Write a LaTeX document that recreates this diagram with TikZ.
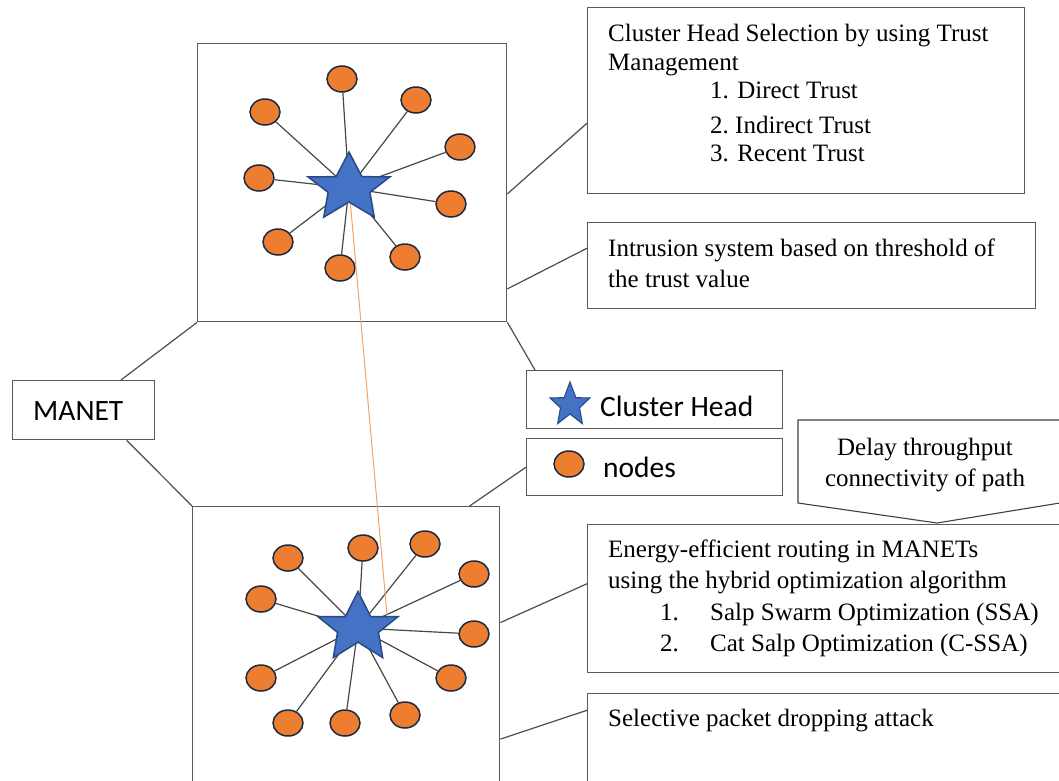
\documentclass[tikz,border=0pt]{standalone}
\usepackage{fontspec}
\setmainfont{Liberation Serif}
\newfontfamily\calib{Carlito}
\usetikzlibrary{shapes.geometric,calc}
\definecolor{nodeorange}{HTML}{ED7D31}
\definecolor{nodeedge}{HTML}{1F2A3C}
\definecolor{starblue}{HTML}{4472C4}
\definecolor{staredge}{HTML}{2A4A85}
\definecolor{boxgray}{HTML}{5A5A5A}
\definecolor{linkorange}{HTML}{F2A368}
\begin{document}
\begin{tikzpicture}[x=1pt,y=-1pt,
  box/.style={draw=boxgray, line width=1.4pt, rectangle, inner sep=0pt, anchor=north west},
  nd/.style={ellipse, draw=nodeedge, line width=1.5pt, fill=nodeorange, minimum width=30pt, minimum height=26pt, inner sep=0pt},
  spoke/.style={draw=black!72, line width=1.2pt},
  conn/.style={draw=black!70, line width=1.2pt},
  txt/.style={inner sep=0pt, anchor=base west, font=\fontsize{25}{30}\selectfont},
  sanstxt/.style={inner sep=0pt, anchor=base west, font=\calib\fontsize{29.5}{34}\selectfont},
  starsty/.style={fill=starblue, draw=staredge, line width=1.5pt, line join=miter},
  link/.style={draw=linkorange, line width=1pt},
]
\useasboundingbox (0,0) rectangle (1059,780);
\clip (0,0) rectangle (1059,780);

% ---------- boxes ----------
\node[box, minimum width=309pt, minimum height=278pt] (top) at (197,43) {};
\node[box, minimum width=307pt, minimum height=290pt] (bot) at (192,506) {};
\node[box, minimum width=142pt, minimum height=59pt] (manet) at (12,380) {};
\node[box, minimum width=437pt, minimum height=186pt] (chsel) at (587,7) {};
\node[box, minimum width=448pt, minimum height=86pt] (intr) at (587,222) {};
\node[box, minimum width=256pt, minimum height=58pt] (chleg) at (526,370) {};
\node[box, minimum width=256pt, minimum height=57pt] (ndleg) at (526,438) {};
\node[box, minimum width=480pt, minimum height=148pt] (energy) at (587,524) {};
\node[box, minimum width=480pt, minimum height=110pt] (sel) at (587,693) {};

% ---------- callout ----------
\coordinate (dlA) at (798,420);
\coordinate (dlB) at (1066,420);
\coordinate (dlC) at (1066,502);
\coordinate (dlTip) at (937,523);
\coordinate (dlD) at (798,503);
\draw[draw=black!75, line width=1.1pt] (dlC) -- (dlTip) -- (dlD) -- (dlA) -- (dlB);

% ---------- connectors between boxes ----------
\draw[conn] ($(manet.north west)!0.76!(manet.north east)$) -- (top.south west);
\draw[conn] ($(manet.south west)!0.80!(manet.south east)$) -- (bot.north west);
\draw[conn] (top.south east) -- ($(chleg.north west)!0.035!(chleg.north east)$);
\draw[conn] (ndleg.west) -- ($(bot.north west)!0.9!(bot.north east)$);
\draw[conn] ($(top.north east)!0.54!(top.south east)$) -- ($(chsel.north west)!0.62!(chsel.south west)$);
\draw[conn] ($(top.north east)!0.88!(top.south east)$) -- ($(intr.north west)!0.30!(intr.south west)$);
\draw[conn] ($(bot.north east)!0.40!(bot.south east)$) -- ($(energy.north west)!0.40!(energy.south west)$);
\draw[conn] ($(bot.north east)!0.80!(bot.south east)$) -- ($(sel.north west)!0.155!(sel.south west)$);

% ---------- top cluster ----------
\coordinate (s1) at (349,188);
\node[nd] (a1) at (342,79) {};
\node[nd] (a2) at (265,112) {};
\node[nd] (a3) at (416,100) {};
\node[nd] (a4) at (460,147) {};
\node[nd] (a5) at (259,178) {};
\node[nd] (a6) at (451,204) {};
\node[nd] (a7) at (278,242) {};
\node[nd] (a8) at (340,268) {};
\node[nd] (a9) at (405,257) {};
\foreach \n in {a1,a2,a3,a4,a5,a6,a7,a8,a9} \draw[spoke] (s1) -- (\n);

% ---------- bottom cluster ----------
\coordinate (s2) at (358,628);
\node[nd] (b1) at (363,548) {};
\node[nd] (b2) at (425,544) {};
\node[nd] (b3) at (288,558) {};
\node[nd] (b4) at (474,574) {};
\node[nd] (b5) at (261,599) {};
\node[nd] (b6) at (474,634) {};
\node[nd] (b7) at (451,678) {};
\node[nd] (b8) at (261,678) {};
\node[nd] (b9) at (288,723) {};
\node[nd] (b10) at (345,723) {};
\node[nd] (b11) at (405,715) {};
\foreach \n in {b1,b2,b3,b4,b5,b6,b7,b8,b9,b10,b11} \draw[spoke] (s2) -- (\n);

% ---------- link between cluster heads ----------
\coordinate (linkend) at (387,615);
\draw[link] (s1) -- (linkend);

% ---------- stars ----------
\draw[starsty] (s1) +(90:43pt and 36pt)
  \foreach \a in {162,234,306,18}{ -- +(\a-36:22pt and 14pt) -- +(\a:43pt and 36pt)}
  -- +(54:22pt and 14pt) -- cycle;
\draw[starsty] (s2) +(90:42pt and 36.5pt)
  \foreach \a in {162,234,306,18}{ -- +(\a-36:21.5pt and 14.2pt) -- +(\a:42pt and 36.5pt)}
  -- +(54:21.5pt and 14.2pt) -- cycle;

% ---------- legend ----------
\coordinate (s3) at (570,405);
\draw[starsty, line width=1.1pt] (s3) +(90:21pt and 23pt)
  \foreach \a in {162,234,306,18}{ -- +(\a-36:10pt and 9pt) -- +(\a:21pt and 23pt)}
  -- +(54:10pt and 9pt) -- cycle;
\node[sanstxt] (chlbl) at (600,416) {Cluster Head};
\node[nd] (ndicon) at (569,464) {};
\node[sanstxt] (ndlbl) at (603,477) {nodes};
\node[sanstxt] (manetlbl) at (33,420) {MANET};

% ---------- texts ----------
\node[txt] (t1) at (608,41) {Cluster Head Selection by using Trust};
\node[txt] (t2) at (608,70) {Management};
\node[txt] (t3) at (710,98) {1. Direct Trust};
\node[txt] (t4) at (710,133) {2.\ Indirect Trust};
\node[txt] (t5) at (710,161) {3. Recent Trust};

\node[txt] (i1) at (608,256) {Intrusion system based on threshold of};
\node[txt] (i2) at (608,287) {the trust value};

\node[txt, anchor=base] (d1) at (925,455) {Delay throughput};
\node[txt, anchor=base] (d2) at (925,486) {connectivity of path};

\node[txt] (e1) at (608,557) {Energy-efficient routing in MANETs};
\node[txt] (e2) at (608,588) {using the hybrid optimization algorithm};
\node[txt] (e3n) at (660,620) {1.};
\node[txt] (e3) at (710,620) {Salp Swarm Optimization (SSA)};
\node[txt] (e4n) at (660,651) {2.};
\node[txt] (e4) at (710,651) {Cat Salp Optimization (C-SSA)};

\node[txt] (sl1) at (608,726) {Selective packet dropping attack};
\end{tikzpicture}
\end{document}
